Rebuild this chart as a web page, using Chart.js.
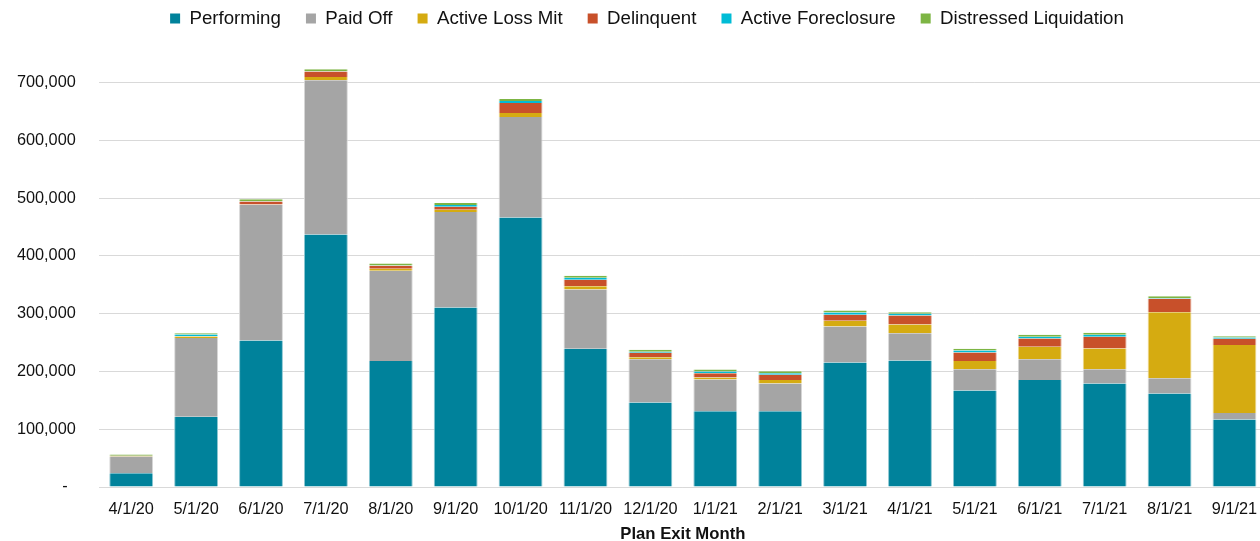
<!DOCTYPE html>
<html>
<head>
<meta charset="utf-8">
<script src="https://cdn.jsdelivr.net/npm/chart.js@4.4.1/dist/chart.umd.min.js"></script>
<style>
  html, body { margin: 0; padding: 0; overflow: hidden; background: #fff; }
  #wrap { width: 1270px; height: 541px; }
</style>
</head>
<body>
<div id="wrap"><canvas id="c" width="1270" height="541"></canvas></div>
<script>
const categories = ['4/1/20','5/1/20','6/1/20','7/1/20','8/1/20','9/1/20','10/1/20','11/1/20','12/1/20','1/1/21','2/1/21','3/1/21','4/1/21','5/1/21','6/1/21','7/1/21','8/1/21','9/1/21'];
const performing        = [23700, 121800, 253600, 437200, 218300, 310700, 466700, 239100, 146100, 131100, 131100, 215400, 218900, 166900, 185400, 179000, 161700, 116700];
const paidOff           = [29000, 135900, 235000, 266900, 156000, 165300, 173900, 102800, 75100, 54900, 47900, 62400, 47400, 37000, 35800, 24900, 26600, 11500];
const activeLossMit     = [1000, 2900, 500, 5800, 3500, 4000, 6900, 5800, 3500, 3500, 6400, 9800, 15000, 14400, 21400, 35800, 114400, 117800];
const delinquent        = [300, 500, 5200, 9200, 5200, 5200, 17300, 11000, 7500, 7500, 8700, 10400, 15600, 14400, 14400, 20200, 23100, 10400];
const activeForeclosure = [300, 2900, 300, 500, 500, 2900, 3500, 3500, 1700, 2900, 2900, 4000, 2900, 3500, 2900, 3500, 1000, 2300];
const distressed        = [2000, 2300, 3500, 3500, 3500, 3500, 3500, 3500, 3500, 3500, 3500, 3500, 2900, 2900, 3500, 3500, 3500, 2300];
const yTickValues = [0, 100000, 200000, 300000, 400000, 500000, 600000, 700000];
const seriesNames = ['Performing', 'Paid Off', 'Active Loss Mit', 'Delinquent', 'Active Foreclosure', 'Distressed Liquidation'];
const xTitle = 'Plan Exit Month';

const colors = ['#00829B', '#A5A5A5', '#D5AB11', '#C8502A', '#00BCD6', '#7DB544'];
const seriesData = [performing, paidOff, activeLossMit, delinquent, activeForeclosure, distressed];

function tint(hex, a) {
  const n = parseInt(hex.slice(1), 16);
  const r = (n >> 16) & 255, g = (n >> 8) & 255, b = n & 255;
  const m = v => Math.round(v + (255 - v) * a);
  return 'rgb(' + m(r) + ',' + m(g) + ',' + m(b) + ')';
}

const FONT = "'Liberation Sans', Arial, sans-serif";

const legendShift = {
  id: 'legendShift',
  afterLayout(chart) {
    const l = chart.legend;
    if (!l) return;
    const dx = 647 - (l.left + l.right) / 2;
    l.left += dx; l.right += dx;
    const dy = -16;
    l.top += dy; l.bottom += dy;
  }
};

const fmt = new Intl.NumberFormat('en-US');

new Chart(document.getElementById('c'), {
  type: 'bar',
  data: {
    labels: categories,
    datasets: seriesData.map((d, i) => ({
      label: seriesNames[i],
      data: d,
      backgroundColor: colors[i],
      borderColor: tint(colors[i], 0.55),
      borderWidth: { left: 1, right: 1, top: 0, bottom: 0 },
      borderSkipped: false,
      categoryPercentage: 1,
      barPercentage: 0.676
    }))
  },
  options: {
    responsive: false,
    animation: false,
    devicePixelRatio: 1,
    layout: { padding: 0 },
    plugins: {
      tooltip: { enabled: false },
      legend: {
        position: 'top',
        align: 'center',
        labels: {
          boxWidth: 10,
          boxHeight: 10,
          padding: 25.1,
          color: '#111',
          font: { family: FONT, size: 18.7 },
          generateLabels(chart) {
            const items = Chart.defaults.plugins.legend.labels.generateLabels(chart);
            items.forEach(it => { it.lineWidth = 0; it.strokeStyle = it.fillStyle; });
            return items;
          }
        }
      }
    },
    scales: {
      x: {
        stacked: true,
        grid: { display: false, drawTicks: false },
        border: { display: false },
        ticks: {
          color: '#111',
          padding: 12.9,
          maxRotation: 0,
          autoSkip: false,
          font: { family: FONT, size: 16.3 }
        },
        title: {
          display: true,
          text: xTitle,
          color: '#111',
          font: { family: FONT, size: 16.7, weight: 'bold', lineHeight: 0.8 },
          padding: { top: 0, bottom: 0 }
        },
        afterFit(scale) { scale.height = 54; }
      },
      y: {
        stacked: true,
        min: 0,
        max: 749850,
        grid: { color: '#d9d9d9', lineWidth: 1, drawTicks: false },
        border: { display: false },
        ticks: {
          stepSize: 100000,
          color: '#111',
          padding: 23,
          font: { family: FONT, size: 16.3 },
          callback(v) { return v === 0 ? '-\u2002' : fmt.format(v); }
        },
        afterBuildTicks(scale) {
          scale.ticks = yTickValues.map(v => ({ value: v }));
        },
        afterFit(scale) { scale.width = 98.75; }
      }
    }
  },
  plugins: [legendShift]
});
</script>
</body>
</html>
